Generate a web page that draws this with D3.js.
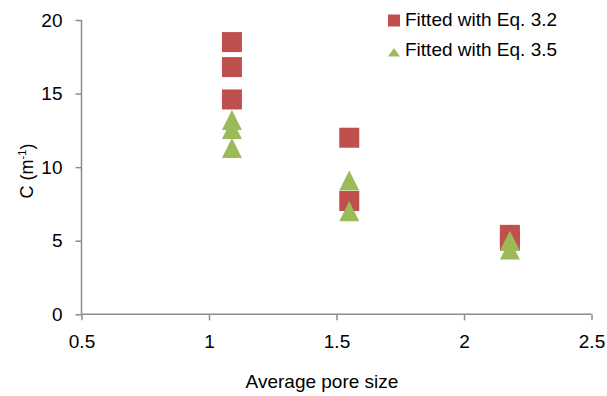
<!DOCTYPE html>
<html>
<head>
<meta charset="utf-8">
<script src="https://cdn.jsdelivr.net/npm/d3@7"></script>
<style>
  html, body { margin: 0; padding: 0; background: #fff; }
  svg { display: block; }
  text { font-family: "Liberation Sans", Arial, sans-serif; fill: #000; }
</style>
</head>
<body>
<svg id="chart" width="607" height="396"></svg>
<script>
// Average pore size vs. fitted coefficient C
const poreSize32 = [1.09, 1.09, 1.09, 1.55, 1.55, 2.18, 2.18];
const cEq32      = [18.5, 16.8, 14.6, 12.0, 7.7, 5.4, 5.0];
const poreSize35 = [1.09, 1.09, 1.09, 1.55, 1.55, 2.18, 2.18];
const cEq35      = [13.2, 12.6, 11.3, 9.1, 7.0, 5.0, 4.4];
const xTicks = [0.5, 1, 1.5, 2, 2.5];
const yTicks = [0, 5, 10, 15, 20];
const seriesNames = ["Fitted with Eq. 3.2", "Fitted with Eq. 3.5"];

const svg = d3.select("#chart");
const plotLeft = 81.5, plotRight = 591.5, plotTop = 20, plotBottom = 314.3;

const x = d3.scaleLinear().domain([0.5, 2.5]).range([plotLeft, plotRight]);
const y = d3.scaleLinear().domain([0, 20]).range([plotBottom, plotTop]);

const axisColor = "#8c8c8c";
const fontSize = 19;

// X axis
const xAxis = svg.append("g")
  .attr("transform", `translate(0,${plotBottom})`)
  .call(d3.axisBottom(x).tickValues(xTicks).tickFormat(d3.format("")).tickSize(6).tickPadding(14));
// Y axis
const yAxis = svg.append("g")
  .attr("transform", `translate(${plotLeft},0)`)
  .call(d3.axisLeft(y).tickValues(yTicks).tickSize(6).tickPadding(13));

[xAxis, yAxis].forEach(g => {
  g.select(".domain").attr("stroke", axisColor).attr("stroke-width", 1.5);
  g.selectAll(".tick line").attr("stroke", axisColor).attr("stroke-width", 1.5);
  g.selectAll(".tick text")
    .attr("font-size", fontSize)
    .attr("font-family", "Liberation Sans, Arial, sans-serif")
    .attr("fill", "#000");
});
// Plain axis lines; the tick lines provide the outer stubs
xAxis.select(".domain").attr("d", `M${plotLeft},0H${plotRight}`);
yAxis.select(".domain").attr("d", `M0,${plotTop}V${plotBottom}`);

// Axis titles
svg.append("text")
  .attr("x", 322).attr("y", 388)
  .attr("text-anchor", "middle")
  .attr("font-size", fontSize)
  .text("Average pore size");

const yTitle = svg.append("text")
  .attr("transform", `translate(33,171) rotate(-90)`)
  .attr("text-anchor", "middle")
  .attr("font-size", 18);
yTitle.append("tspan").text("C (m");
yTitle.append("tspan").attr("font-size", 11).attr("dy", -7).text("-1");
yTitle.append("tspan").attr("dy", 7).text(")");

// Markers
const red = "#C0504D", green = "#9BBB59";
const sq = 20, tri = 20;
const triPath = s => `M0,${-s/2}L${s/2},${s/2}L${-s/2},${s/2}Z`;

svg.append("g").selectAll("rect")
  .data(d3.zip(poreSize32, cEq32))
  .join("rect")
  .attr("x", d => x(d[0]) - sq / 2)
  .attr("y", d => y(d[1]) - sq / 2)
  .attr("width", sq).attr("height", sq)
  .attr("fill", red);

svg.append("g").selectAll("path")
  .data(d3.zip(poreSize35, cEq35))
  .join("path")
  .attr("transform", d => `translate(${x(d[0])},${y(d[1])})`)
  .attr("d", triPath(tri))
  .attr("fill", green);

// Legend
const legend = svg.append("g");
legend.append("rect")
  .attr("x", 388).attr("y", 14.5).attr("width", 12).attr("height", 12)
  .attr("fill", red);
legend.append("text")
  .attr("x", 405).attr("y", 25.5)
  .attr("font-size", fontSize)
  .text(seriesNames[0]);
legend.append("path")
  .attr("transform", "translate(394,52.5)")
  .attr("d", "M0,-4.5L6,4L-6,4Z")
  .attr("fill", green);
legend.append("text")
  .attr("x", 405).attr("y", 56)
  .attr("font-size", fontSize)
  .text(seriesNames[1]);
</script>
</body>
</html>
